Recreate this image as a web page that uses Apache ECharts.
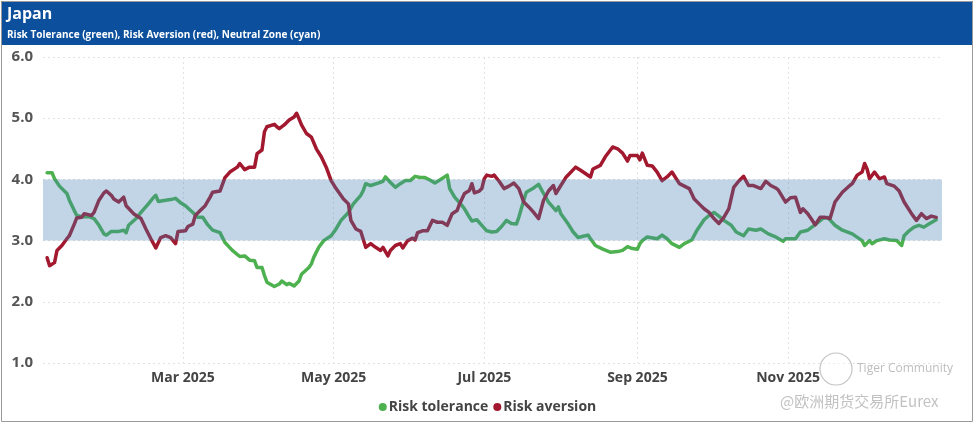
<!DOCTYPE html>
<html>
<head>
<meta charset="utf-8">
<script src="https://cdn.jsdelivr.net/npm/echarts@6/dist/echarts.min.js"></script>
<style>
  html, body { margin: 0; padding: 0; background: #ffffff; }
  #chart { width: 975px; height: 424px; }
</style>
</head>
<body>
<div id="chart"></div>
<script>
// ---- Data (x = day of year 2025, y = indicator value) ----
const chartTitle = 'Japan';
const chartSubtitle = 'Risk Tolerance (green), Risk Aversion (red), Neutral Zone (cyan)';
const seriesNames = ['Risk tolerance', 'Risk aversion'];
const monthTickLabels = ['2025-03-01', '2025-05-01', '2025-07-01', '2025-09-01', '2025-11-01'];
const neutralZone = [3, 4];
const yTicks = [1, 2, 3, 4, 5, 6];

const riskTolerance = [
  [5,4.11],[7,4.11],[8,4.01],[10,3.89],[13,3.77],[14,3.66],[16,3.49],[17,3.41],[19,3.39],[22,3.39],
  [24,3.36],[26,3.25],[28,3.11],[29,3.09],[31,3.15],[34,3.15],[36,3.17],[37,3.13],[38,3.25],[41,3.36],
  [43,3.46],[46,3.60],[48,3.70],[49,3.74],[50,3.64],[53,3.66],[55,3.67],[57,3.69],[59,3.62],[61,3.57],
  [64,3.46],[66,3.38],[68,3.38],[70,3.26],[72,3.17],[75,3.13],[77,2.97],[80,2.84],[83,2.74],[85,2.75],
  [87,2.68],[89,2.67],[90,2.56],[92,2.56],[93,2.43],[94,2.32],[97,2.25],[99,2.29],[100,2.34],[102,2.28],
  [103,2.30],[105,2.26],[107,2.34],[108,2.45],[111,2.56],[112,2.62],[113,2.73],[115,2.89],[117,3.00],[120,3.08],
  [122,3.19],[124,3.33],[127,3.46],[129,3.60],[132,3.74],[133,3.82],[134,3.93],[136,3.90],[139,3.94],[141,3.97],
  [142,4.04],[144,3.95],[146,3.87],[148,3.93],[150,3.98],[152,3.98],[154,4.05],[156,4.03],[158,4.03],[160,3.99],
  [162,3.94],[164,3.99],[167,4.07],[168,3.85],[170,3.71],[173,3.57],[174,3.52],[176,3.38],[177,3.32],[179,3.34],
  [181,3.25],[183,3.16],[185,3.14],[187,3.15],[189,3.23],[191,3.33],[193,3.28],[195,3.27],[196,3.38],[198,3.66],
  [199,3.79],[202,3.86],[204,3.92],[206,3.77],[208,3.63],[211,3.49],[212,3.55],[213,3.44],[216,3.27],[218,3.14],
  [220,3.05],[222,3.07],[224,3.09],[225,3.03],[227,2.92],[230,2.86],[233,2.81],[236,2.82],[238,2.84],[240,2.90],
  [242,2.87],[244,2.86],[245,2.95],[246,3.00],[248,3.06],[252,3.03],[254,3.09],[256,3.03],[258,2.95],[261,2.89],
  [263,2.95],[266,3.01],[268,3.16],[271,3.34],[273,3.41],[275,3.46],[277,3.40],[279,3.33],[282,3.25],[284,3.14],
  [287,3.08],[289,3.19],[292,3.17],[294,3.19],[297,3.11],[300,3.06],[303,2.99],[304,3.03],[308,3.03],[310,3.14],
  [313,3.17],[316,3.26],[319,3.36],[321,3.38],[324,3.25],[327,3.17],[331,3.11],[335,3.00],[336,2.92],[338,3.00],
  [339,2.95],[341,3.00],[344,3.03],[346,3.01],[349,3.00],[351,2.92],[352,3.08],[354,3.16],[356,3.22],[358,3.25],
  [360,3.22],[362,3.27],[365,3.34]
];

const riskAversion = [
  [5,2.72],[6,2.59],[8,2.64],[9,2.84],[11,2.92],[13,3.03],[14,3.08],[16,3.27],[17,3.37],[19,3.38],
  [20,3.44],[23,3.41],[24,3.46],[26,3.66],[28,3.78],[29,3.81],[31,3.74],[32,3.68],[34,3.63],[36,3.71],
  [37,3.57],[40,3.44],[43,3.36],[45,3.19],[47,3.03],[49,2.88],[51,3.05],[53,3.08],[55,3.05],[57,2.95],
  [58,3.15],[61,3.16],[62,3.23],[64,3.27],[65,3.41],[67,3.49],[69,3.57],[71,3.71],[72,3.79],[75,3.81],
  [77,4.03],[79,4.12],[82,4.20],[83,4.26],[85,4.16],[87,4.20],[89,4.20],[90,4.42],[92,4.48],[93,4.78],
  [94,4.86],[97,4.90],[98,4.86],[99,4.83],[101,4.89],[103,4.97],[105,5.02],[106,5.08],[107,4.99],[108,4.89],
  [110,4.75],[112,4.69],[114,4.50],[116,4.37],[118,4.20],[120,3.98],[122,3.85],[125,3.68],[127,3.60],[128,3.33],
  [130,3.19],[132,3.15],[134,2.89],[136,2.95],[138,2.89],[140,2.84],[141,2.89],[143,2.75],[144,2.84],[146,2.92],
  [148,2.95],[149,2.88],[151,3.00],[153,3.04],[154,3.01],[155,3.13],[157,3.16],[159,3.16],[161,3.33],[163,3.30],
  [165,3.30],[167,3.25],[169,3.44],[171,3.49],[172,3.60],[174,3.77],[176,3.82],[177,3.93],[178,3.78],[180,3.81],
  [181,3.85],[182,4.01],[183,4.07],[185,4.05],[186,4.07],[188,3.97],[190,3.85],[192,3.89],[194,3.94],[196,3.85],
  [198,3.63],[200,3.55],[202,3.46],[204,3.36],[206,3.66],[208,3.81],[210,3.90],[211,3.77],[213,3.90],[215,4.03],
  [219,4.20],[221,4.15],[225,4.04],[226,4.17],[229,4.23],[231,4.37],[234,4.53],[236,4.50],[238,4.43],[240,4.30],
  [241,4.39],[244,4.39],[245,4.32],[246,4.43],[248,4.23],[250,4.22],[252,4.12],[254,3.98],[256,4.04],[258,4.12],
  [261,3.93],[263,3.89],[265,3.85],[267,3.68],[269,3.60],[271,3.52],[273,3.46],[275,3.36],[277,3.28],[279,3.38],
  [281,3.52],[283,3.87],[285,3.97],[287,4.05],[289,3.90],[291,3.90],[294,3.85],[296,3.97],[298,3.90],[300,3.86],
  [301,3.83],[304,3.63],[306,3.70],[308,3.71],[310,3.46],[311,3.52],[313,3.44],[316,3.26],[318,3.38],[320,3.38],
  [322,3.36],[324,3.63],[327,3.79],[330,3.90],[331,3.93],[333,4.07],[335,4.12],[336,4.26],[337,4.17],[338,4.01],
  [340,4.12],[342,4.01],[344,4.04],[345,3.93],[348,3.89],[350,3.81],[352,3.63],[355,3.44],[357,3.33],[359,3.44],
  [361,3.36],[363,3.40],[365,3.38]
];

// ---- Build ----
const dayToTime = d => Date.UTC(2025, 0, d);
const toSeries = arr => arr.map(p => [dayToTime(p[0]), p[1]]);
const tickTimes = monthTickLabels.map(s => Date.parse(s + 'T00:00:00Z'));

const GREEN = '#4cb14e';
const RED = '#a2182e';
const FONT = '"Open Sans", "Noto Sans", sans-serif';

const chart = echarts.init(document.getElementById('chart'), null, { renderer: 'canvas' });

chart.setOption({
  useUTC: true,
  animation: false,
  backgroundColor: '#ffffff',
  textStyle: { fontFamily: FONT },
  grid: { left: 43, right: 33, top: 57, bottom: 61, containLabel: false },
  xAxis: {
    type: 'time',
    min: Date.UTC(2025, 0, 3, 8),
    max: Date.UTC(2026, 0, 2, 8),
    axisLine: { show: false },
    axisTick: { show: false, customValues: tickTimes },
    axisLabel: {
      customValues: tickTimes,
      formatter: '{MMM} {yyyy}',
      color: '#444',
      fontWeight: 'bold',
      fontSize: 14,
      fontFamily: FONT,
      margin: 8
    },
    splitLine: { show: true, lineStyle: { color: '#e2e2e2', type: [2, 3], width: 1 } }
  },
  yAxis: {
    type: 'value',
    min: yTicks[0],
    max: yTicks[yTicks.length - 1],
    interval: 1,
    axisLine: { show: false },
    axisTick: { show: false },
    axisLabel: {
      formatter: v => v.toFixed(1),
      color: '#555',
      fontWeight: 'bold',
      fontSize: 15,
      fontFamily: FONT,
      margin: 10
    },
    splitLine: { show: true, lineStyle: { color: '#e2e2e2', type: [2, 3], width: 1 } }
  },
  legend: {
    data: seriesNames,
    bottom: 5,
    left: 'center',
    icon: 'circle',
    itemWidth: 8,
    itemHeight: 8,
    itemGap: 5,
    textStyle: { color: '#444', fontWeight: 'bold', fontSize: 14, fontFamily: FONT, padding: [0, 0, 0, -3] }
  },
  series: [
    {
      name: seriesNames[0],
      type: 'line',
      data: toSeries(riskTolerance),
      showSymbol: false,
      color: GREEN,
      lineStyle: { width: 3.5, color: GREEN, join: 'round', cap: 'round' },
      z: 2
    },
    {
      name: seriesNames[1],
      type: 'line',
      data: toSeries(riskAversion),
      showSymbol: false,
      color: RED,
      lineStyle: { width: 3.5, color: RED, join: 'round', cap: 'round' },
      z: 3
    },
    {
      name: 'Neutral zone',
      type: 'line',
      data: [],
      z: 10,
      silent: true,
      markArea: {
        silent: true,
        z: 20,
        itemStyle: { color: 'rgba(66,126,178,0.33)' },
        data: [[{ yAxis: neutralZone[0] }, { yAxis: neutralZone[1] }]]
      }
    }
  ],
  graphic: [
    { type: 'rect', shape: { x: 1, y: 1, width: 972, height: 44 }, style: { fill: '#0b4f9d' }, z: 100 },
    { type: 'text', x: 7, y: 6, style: { text: chartTitle, fill: '#fff', font: 'bold 16px ' + FONT }, z: 101 },
    { type: 'text', x: 7, y: 30, style: { text: chartSubtitle, fill: '#fff', font: 'bold 10px ' + FONT }, z: 101 },
    { type: 'rect', shape: { x: 1.5, y: 1.5, width: 971, height: 420 }, style: { fill: 'none', stroke: '#9a9a9a', lineWidth: 1 }, z: 102 },
    // watermark
    { type: 'circle', shape: { cx: 836, cy: 369, r: 16 }, style: { fill: 'rgba(255,255,255,0.4)', stroke: 'rgba(190,190,190,0.9)', lineWidth: 1.2 }, z: 103 },
    { type: 'text', x: 857, y: 363, style: { text: 'Tiger Community', fill: 'rgba(185,185,185,0.95)', font: '12px ' + FONT }, z: 103 },
    { type: 'text', x: 780, y: 394, style: { text: '@欧洲期货交易所Eurex', fill: 'rgba(190,190,190,0.95)', font: '15px "Noto Sans CJK SC", sans-serif' }, z: 103 }
  ]
});
</script>
</body>
</html>
